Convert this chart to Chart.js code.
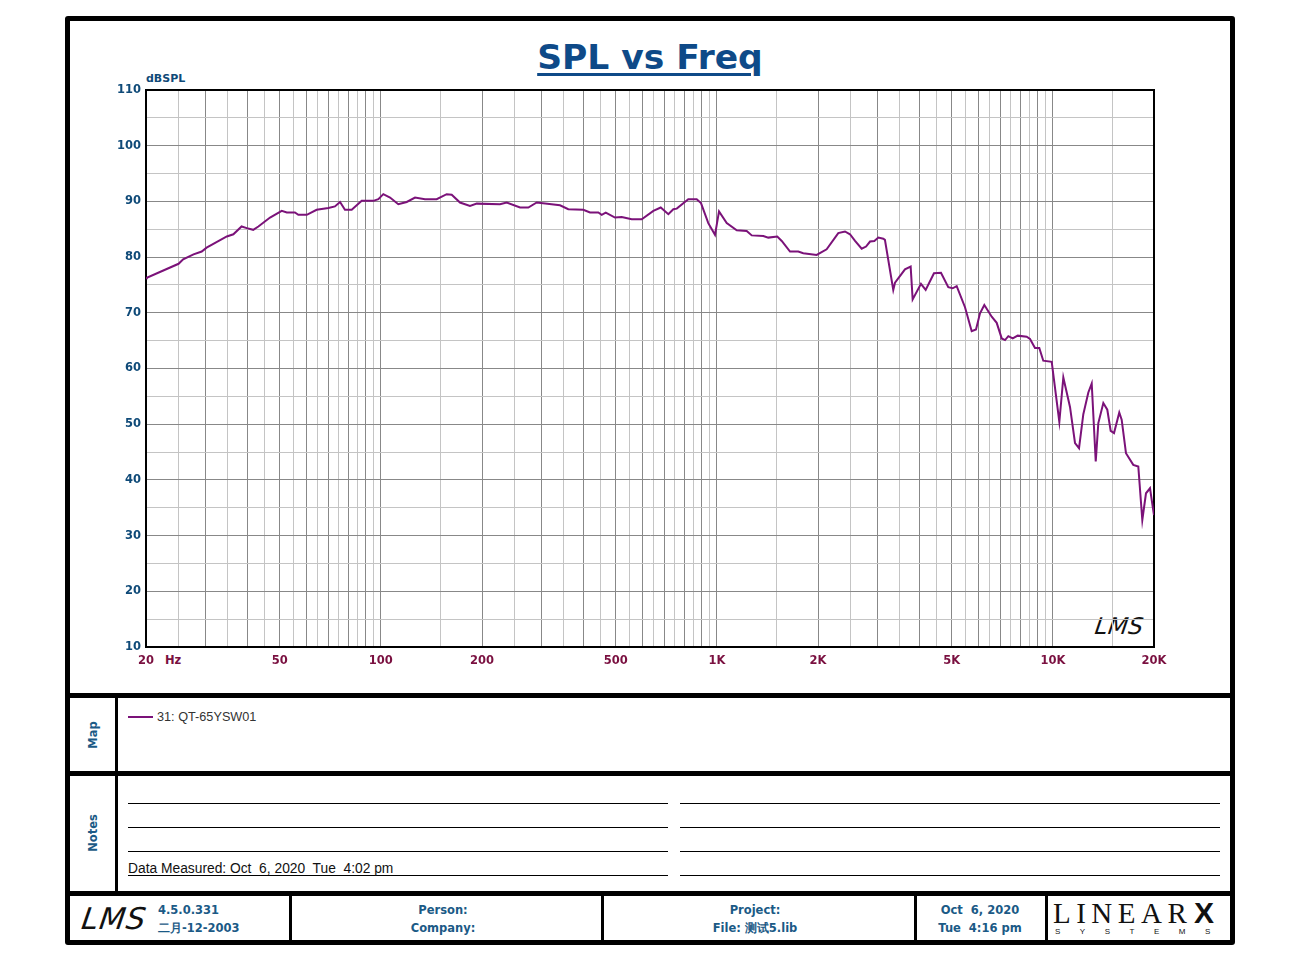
<!DOCTYPE html>
<html>
<head>
<meta charset="utf-8">
<script src="https://cdn.jsdelivr.net/npm/chart.js@4.4.1/dist/chart.umd.min.js"></script>
<style>
  html,body{margin:0;padding:0;background:#fff;}
  body{width:1300px;height:960px;position:relative;overflow:hidden;}
  .abs{position:absolute;}
  .blk{position:absolute;background:#000;}
  .t{position:absolute;white-space:pre;}
  .c{transform:translate(-50%,-50%);}
  .lc{transform:translate(0,-50%);}
  .blue{color:#1b5a86;font-family:"DejaVu Sans",sans-serif;font-weight:bold;font-size:11.5px;}
  #chartWrap{position:absolute;left:0;top:0;width:1300px;height:680px;}
</style>
</head>
<body>
<!-- frame -->
<div class="abs" style="left:65px;top:16px;width:1170px;height:929px;border:5px solid #000;box-sizing:border-box;border-radius:3px;"></div>
<div class="blk" style="left:65px;top:693px;width:1170px;height:5px;"></div>
<div class="blk" style="left:65px;top:771px;width:1170px;height:5px;"></div>
<div class="blk" style="left:65px;top:891px;width:1170px;height:5px;"></div>
<div class="blk" style="left:115px;top:697px;width:3px;height:195px;"></div>
<div class="blk" style="left:289px;top:895px;width:3px;height:46px;"></div>
<div class="blk" style="left:601px;top:895px;width:3px;height:46px;"></div>
<div class="blk" style="left:914px;top:895px;width:3px;height:46px;"></div>
<div class="blk" style="left:1045px;top:895px;width:3px;height:46px;"></div>

<!-- title -->
<div class="t c" style="left:650px;top:57px;font-family:'DejaVu Sans',sans-serif;font-weight:bold;font-size:34.5px;color:#0e4a88;text-decoration:underline;text-decoration-thickness:3px;text-underline-offset:4px;">SPL vs Freq</div>
<div class="t lc" style="left:146px;top:78px;color:#0f4a78;font-family:'DejaVu Sans',sans-serif;font-weight:bold;font-size:11px;">dBSPL</div>
<div class="t lc" style="left:165px;top:660px;color:#7a1040;font-family:'DejaVu Sans',sans-serif;font-weight:bold;font-size:11.5px;">Hz</div>
<div class="t lc" style="left:1095px;top:626px;font-family:'DejaVu Sans',sans-serif;font-style:italic;font-size:23px;color:#111;letter-spacing:0.5px;transform:translate(0,-50%) skewX(-8deg);">LMS</div>

<!-- map -->
<div class="t c blue" style="left:93px;top:735px;transform:translate(-50%,-50%) rotate(-90deg);">Map</div>
<div class="abs" style="left:128px;top:716px;width:25px;height:2px;background:#7b1279;"></div>
<div class="t lc" style="left:157px;top:717px;font-family:'Liberation Sans',sans-serif;font-size:12.7px;color:#333;">31: QT-65YSW01</div>

<!-- notes -->
<div class="t c blue" style="left:93px;top:833px;transform:translate(-50%,-50%) rotate(-90deg);">Notes</div>
<div class="blk" style="left:128px;top:803px;width:540px;height:1px;"></div>
<div class="blk" style="left:128px;top:827px;width:540px;height:1px;"></div>
<div class="blk" style="left:128px;top:851px;width:540px;height:1px;"></div>
<div class="blk" style="left:128px;top:875px;width:540px;height:1px;"></div>
<div class="blk" style="left:680px;top:803px;width:540px;height:1px;"></div>
<div class="blk" style="left:680px;top:827px;width:540px;height:1px;"></div>
<div class="blk" style="left:680px;top:851px;width:540px;height:1px;"></div>
<div class="blk" style="left:680px;top:875px;width:540px;height:1px;"></div>
<div class="t" style="left:128px;top:861px;font-family:'Liberation Sans',sans-serif;font-size:13.8px;color:#111;">Data Measured: Oct  6, 2020  Tue  4:02 pm</div>

<!-- footer -->
<div class="t lc" style="left:82px;top:918px;font-family:'DejaVu Sans',sans-serif;font-style:italic;font-size:30px;color:#111;letter-spacing:1px;transform:translate(0,-50%) skewX(-8deg);">LMS</div>
<div class="t lc blue" style="left:158px;top:910px;">4.5.0.331</div>
<div class="t lc blue" style="left:158px;top:928px;">二月-12-2003</div>
<div class="t c blue" style="left:443px;top:910px;">Person:</div>
<div class="t c blue" style="left:443px;top:928px;">Company:</div>
<div class="t c blue" style="left:755px;top:910px;">Project:</div>
<div class="t c blue" style="left:755px;top:928px;">File: 测试5.lib</div>
<div class="t c blue" style="left:980px;top:910px;">Oct  6, 2020</div>
<div class="t c blue" style="left:980px;top:928px;">Tue  4:16 pm</div>
<div class="t lc" style="left:1053px;top:913px;font-family:'Liberation Serif',serif;font-size:29px;color:#111;letter-spacing:5.5px;">LINEAR</div>
<div class="t lc" style="left:1194px;top:913px;font-family:'Liberation Sans',sans-serif;font-weight:900;font-size:30px;color:#111;">X</div>
<div class="t lc" style="left:1055px;top:931px;font-family:'Liberation Sans',sans-serif;font-size:8px;color:#111;letter-spacing:19.5px;">SYSTEMS</div>

<div id="chartWrap"><canvas id="c" width="1300" height="680"></canvas></div>

<script>
// ---- data ----
const freqs = [20,20.1,25.0,25.8,27.7,29.3,30.3,34.8,36.4,38.5,39.9,41.7,43.2,46.8,50.7,52.5,55.5,56.8,60.2,64.4,69.8,73.0,75.6,78.2,81.9,87.7,95.0,98.3,101.7,106.5,112.7,119.4,126.4,135.3,146.6,157.0,162.5,172.0,184.2,192.9,226.2,236.9,259.6,274.7,291.0,341.4,361.3,400.4,419.3,443.8,454.2,467.0,497.6,521.0,558.0,597.7,647.1,680.7,717.2,742.1,759.7,822.2,870.9,897.0,943.0,987.4,1015,1070,1146,1227,1270,1375,1423,1513,1560,1651,1747,1808,1982,2122,2298,2406,2490,2578,2698,2780,2857,2942,3024,3129,3164,3350,3390,3630,3774,3826,4050,4183,4428,4646,4884,5033,5174,5477,5734,5906,6070,6252,6577,6806,7044,7205,7370,7596,7859,8358,8551,8848,9113,9365,9922,10454,10744,11247,11641,11964,12322,12752,13052,13416,13656,14132,14522,14864,15206,15764,16026,16506,17352,17960,18460,18932,19460,19822,20000];
const spl = [76.2,76.3,78.8,79.6,80.5,81.0,81.7,83.7,84.1,85.5,85.2,84.9,85.5,87.1,88.3,88.0,88.0,87.6,87.6,88.5,88.8,89.1,89.9,88.5,88.5,90.1,90.1,90.4,91.3,90.7,89.5,89.9,90.7,90.4,90.4,91.3,91.2,89.8,89.2,89.6,89.5,89.8,88.9,88.9,89.8,89.3,88.6,88.5,88.0,88.0,87.6,88.0,87.1,87.2,86.8,86.8,88.3,88.9,87.7,88.6,88.7,90.4,90.4,89.7,86.1,84.0,88.2,86.1,84.8,84.7,83.9,83.8,83.5,83.7,82.9,81.0,81.0,80.7,80.4,81.4,84.3,84.6,84.1,82.9,81.5,81.9,82.8,82.9,83.5,83.3,83.1,74.1,75.4,77.8,78.3,72.4,75.2,74.1,77.1,77.2,74.6,74.4,74.8,71.0,66.7,67.0,69.9,71.4,69.3,68.2,65.4,65.1,65.8,65.4,65.9,65.7,65.3,63.7,63.7,61.4,61.2,50.4,58.4,53.1,46.6,45.7,51.8,55.7,57.3,43.3,50.2,53.8,52.6,48.8,48.4,52.1,50.8,44.8,42.7,42.4,32.8,37.6,38.5,35.2,33.7];
const xTickValues = [20,50,100,200,500,1000,2000,5000,10000,20000];
const xTickLabels = ['20','50','100','200','500','1K','2K','5K','10K','20K'];
const yMin = 10, yMax = 110, yStep = 5;

// grid frequencies: 1, 1.5, 2, ... 9.5 per decade
const gridFreqs = [];
[10,100,1000,10000].forEach(d=>{
  for(let k=2;k<=19;k++){ const v=d*k/2; if(v>=20 && v<=20000) gridFreqs.push(v); }
});
function isMajor(v){
  const p = Math.pow(10, Math.floor(Math.log10(v)+1e-9));
  const m = v/p;
  return Math.abs(m-Math.round(m))<1e-6;
}

const frame = {
  id:'plotFrame',
  beforeDatasetsDraw(chart){
    const a = chart.chartArea, ctx = chart.ctx;
    ctx.save(); ctx.strokeStyle='#000'; ctx.lineWidth=2;
    ctx.strokeRect(a.left, a.top, a.right-a.left, a.bottom-a.top);
    ctx.restore();
  }
};

new Chart(document.getElementById('c'), {
  type:'line',
  data:{ datasets:[{
    label:'31: QT-65YSW01',
    data: freqs.map((f,i)=>({x:f,y:spl[i]})),
    borderColor:'#7b1279', borderWidth:2, pointRadius:0, tension:0, fill:false
  }]},
  options:{
    responsive:false, animation:false, devicePixelRatio:1,
    layout:{padding:{left:0,top:90,right:146,bottom:0}},
    plugins:{legend:{display:false}, title:{display:false}, tooltip:{enabled:false}},
    scales:{
      x:{
        type:'logarithmic', min:20, max:20000,
        afterBuildTicks(s){ s.ticks = gridFreqs.map(v=>({value:v})); },
        afterFit(s){ s.height = 33; },
        ticks:{
          autoSkip:false, maxRotation:0, minRotation:0, padding:7,
          color:'#7a1040', font:{family:'DejaVu Sans', weight:'bold', size:11.5},
          callback(v){ const i = xTickValues.indexOf(v); return i>=0 ? xTickLabels[i] : ''; }
        },
        grid:{ drawTicks:false, lineWidth:1, color(ctx){ return (ctx.tick && isMajor(ctx.tick.value)) ? '#888888' : '#c4c4c4'; } },
        border:{display:true,color:'#000',width:2}
      },
      y:{
        min:yMin, max:yMax,
        afterFit(s){ s.width = 146; },
        ticks:{
          stepSize:yStep, padding:5,
          color:'#0f4a78', font:{family:'DejaVu Sans', weight:'bold', size:11.5},
          callback(v){ return v%10===0 ? String(v) : ''; }
        },
        grid:{ drawTicks:false, lineWidth:1, color(ctx){ return (ctx.tick && ctx.tick.value%10===0) ? '#888888' : '#c4c4c4'; } },
        border:{display:true,color:'#000',width:2}
      }
    }
  },
  plugins:[frame]
});
</script>
</body>
</html>
